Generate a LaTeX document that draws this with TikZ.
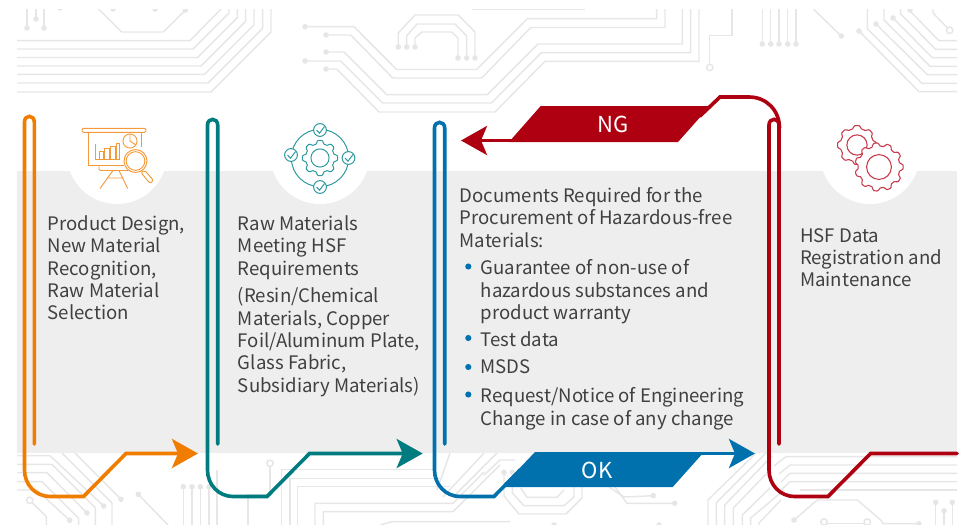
\documentclass[tikz,border=0pt]{standalone}
\usepackage{fontspec}
\setmainfont{Noto Sans CJK SC}
\usetikzlibrary{arrows.meta}
\definecolor{cOrange}{HTML}{F07D00}
\definecolor{cTeal}{HTML}{007C80}
\definecolor{cBlue}{HTML}{0071AD}
\definecolor{cRed}{HTML}{AE0011}
\definecolor{cBand}{HTML}{EEEEEE}
\definecolor{cTrace}{HTML}{E6E6E6}
\definecolor{cText}{HTML}{404040}
\definecolor{cIconO}{HTML}{F49A3A}
\definecolor{cIconT}{HTML}{2E9AA0}
\definecolor{cIconR}{HTML}{C63A4A}
\tikzset{
  trace/.style={draw=cTrace,line width=1.1pt},
  conn/.style={line width=2.7pt,line join=miter,line cap=round},
  tip/.style={-{Stealth[length=19.5pt,width=21.75pt,inset=4.5pt]}},
  body/.style={anchor=north west,inner sep=0pt,align=left,text=cText,font=\fontsize{13.95}{16.8}\selectfont},
  lab/.style={text=white,inner sep=0pt,font=\fontsize{16.5}{18}\selectfont},
  iconO/.style={draw=cIconO,line width=.7pt},
  iconT/.style={draw=cIconT,line width=.75pt},
  iconR/.style={draw=cIconR,line width=.8pt,fill=white},
}
\newcommand{\gearat}[6]{% x,y,R,A,N,style
  \draw[#6] plot[domain=0:360,samples=145,smooth] ({#1+(#3+#4*min(1,max(-1,1.7*cos(#5*\x))))*cos(\x)},{#2+(#3+#4*min(1,max(-1,1.7*cos(#5*\x))))*sin(\x)}) -- cycle;}
\begin{document}
\begin{tikzpicture}[x=0.75pt,y=-0.75pt]
\useasboundingbox (0,0) rectangle (968,525);
% circuit traces
\begin{scope}
\clip (17,9) rectangle (957,525);
% top-left
\draw[trace] (17,40.7) -- (190,40.7) -- (221,9);
\draw[trace] (17,49) -- (193,49) -- (229,13) -- (229,9);
\draw[trace] (17,57.5) -- (197.5,57.5) -- (237.3,17.7) -- (237.3,9);
\draw[trace] (17,66) -- (201,66) -- (245.7,21.3) -- (245.7,9);
\draw[trace] (17,74.3) -- (204.5,74.3) -- (254,24.8) -- (254,9);
\draw[trace] (17,83) -- (208,83) -- (262.7,28.3) -- (262.7,9);
\draw[trace] (17,92) -- (211,92) -- (271,32) -- (271,9);
\draw[trace] (27,9) -- (27,28);
\draw[trace] (36,9) -- (36,19);
\draw[trace] (44,9) -- (44,28);
\draw[trace] (98.7,9) -- (121.7,32) -- (163.3,32) -- (185.5,10);
% top-middle
\draw[trace] (305,26.7) -- (354,26.7) -- (396.7,69.5) -- (476.7,69.5) -- (527.5,18.7) -- (656.7,18.7) -- (656.7,9);
\draw[trace] (326,35) -- (350.7,35) -- (392.7,78) -- (481.7,78) -- (530.7,27.5) -- (665,27.5) -- (665,9);
\draw[trace] (326,52) -- (344,52) -- (386.7,94.7) -- (487.3,94.7) -- (538,44) -- (682.3,44) -- (682.3,9);
\draw[trace] (305,61) -- (340.7,61) -- (382.7,103) -- (491.4,103) -- (541.3,52.7) -- (690.7,52.7) -- (690.7,9);
\draw[trace] (326,69) -- (336.7,69) -- (379,112) -- (495,112) -- (545,61.3) -- (699,61.3) -- (699,9);
\draw[trace] (398.3,47) -- (398.3,33) -- (415,15) -- (458.3,15) -- (475,32) -- (475,58);
\draw[trace] (406.7,47) -- (406.7,36) -- (417,24) -- (455,24) -- (466.7,36) -- (466.7,58);
\draw[trace] (415,47) -- (415,38) -- (421.7,32) -- (451.7,32) -- (458,38) -- (458,58);
\draw[draw=cTrace,line width=.5pt] (472,9.3) -- (585,9.3);
% top-right
\draw[trace] (732,9) -- (732,35.7) -- (709.7,35.7) -- (709.7,64.5);
\foreach \xa in {762.3,770.7,779,787.7,796} \draw[trace] (\xa,9) -- (\xa,44);
\draw[trace] (813.3,9) -- (841.3,36);
\draw[trace] (859,31) -- (919,91.7) -- (957,91.7);
\draw[trace] (867.3,9) -- (867.3,28.6) -- (922,83.3) -- (957,83.3);
\draw[trace] (876,24) -- (927.3,74.7) -- (957,74.7);
\draw[trace] (884,9) -- (884,20) -- (930,66.3) -- (957,66.3);
\draw[trace] (893,18) -- (932.3,57.7) -- (957,57.7);
\draw[trace] (900.7,9) -- (900.7,14) -- (935.7,49.3) -- (957,49.3);
\draw[trace] (910,11) -- (939,40.7) -- (957,40.7);
\draw[trace] (933,9) -- (933,13) -- (947.5,28);
% bottom-left
\draw[trace] (75,453) -- (121,499.3);
\draw[trace] (62,453) -- (112,503) -- (112,525);
\draw[trace] (17,455.7) -- (50,455.7) -- (103.7,506);
\draw[trace] (17,464.3) -- (52,464.3) -- (95.3,507.7) -- (95.3,525);
\draw[trace] (17,472.7) -- (47,472.7) -- (87,513);
\draw[trace] (17,481.7) -- (42,481.7) -- (78.7,518.3) -- (78.7,525);
\draw[trace] (17,490) -- (37,490) -- (69.7,520.3);
\draw[trace] (32,502.5) -- (46.3,516.7) -- (46.3,525);
\draw[trace] (138.3,494.3) -- (168,525);
\foreach \xa in {183.3,192,200.3,209} \draw[trace] (\xa,486.7) -- (\xa,525);
\draw[trace] (217,470) -- (217,525);
\draw[trace] (270,466.3) -- (270,495) -- (248,495) -- (248,525);
\draw[trace] (281.7,525) -- (281.7,469.3) -- (435,469.3);
\draw[trace] (290,525) -- (290,478.3) -- (440,478.3);
\draw[trace] (297.7,525) -- (297.7,486.7) -- (450,486.7);
\draw[trace] (315,525) -- (315,503.3) -- (453,503.3) -- (484,472);
\draw[trace] (323.3,525) -- (323.3,511.7) -- (453,511.7) -- (500,465);
\draw[trace] (380,525) -- (392,521.7) -- (510,521.7);
\draw[trace] (437,490) -- (450,453);
\draw[trace] (443,497) -- (484,453);
\draw[trace] (453,497) -- (497,453);
% bottom-middle
\draw[trace] (504,472.3) -- (504,496) -- (519,514) -- (566,514) -- (582,498) -- (582,470);
\draw[trace] (512.3,472.3) -- (512.3,493) -- (524,505.7) -- (564,505.7) -- (574,497) -- (574,470);
\draw[trace] (520.7,488) -- (527,497.3) -- (557,497.3) -- (564,490);
\draw[trace] (484,475) -- (500,460) -- (515,460);
\draw[trace] (609,487) -- (624,497) -- (653.3,495.7);
\draw[trace] (615,487) -- (627,503.3) -- (674.7,503.3);
\draw[trace] (554,525) -- (554,524);
% bottom-right
\draw[trace] (708,525) -- (708,500) -- (756,453);
\draw[trace] (716.3,525) -- (716.3,502.7) -- (766,453);
\draw[trace] (724.7,525) -- (724.7,505) -- (772,456);
\draw[trace] (733.3,525) -- (733.3,508) -- (770,470);
\draw[trace] (742.3,525) -- (742.3,515) -- (770,488);
\draw[trace] (750.7,525) -- (750.7,518) -- (784,490);
\draw[trace] (759,525) -- (759,523) -- (781,500);
\draw[trace] (774,466) -- (786,456.7) -- (957,456.7);
\draw[trace] (779,474) -- (790,465) -- (957,465);
\draw[trace] (781,482) -- (790,473.3) -- (957,473.3);
\draw[trace] (781,490) -- (790,481.7) -- (957,481.7);
\draw[trace] (800,490) -- (957,490);
\draw[trace] (794,520) -- (817.3,500) -- (857.3,500) -- (880.7,520) -- (883,523.7) -- (919,523.7);
\draw[trace] (826.5,523.7) -- (865,523.7);
\draw[trace] (935.7,502.3) -- (935.7,525);
\draw[trace] (944,510.7) -- (944,525);
\draw[trace] (952.3,502.3) -- (952.3,525);
% dots
\foreach \p in {(27,28),(36,19),(44,28),(185.5,10),(113,9),(155,9),(60,8),(305,26.7),(326,35),(326,52),(305,61),(326,69),(398.3,47),(406.7,47),(415,47),(458,58),(466.7,58),(475,58),(762.3,44),(770.7,44),(779,44),(787.7,44),(796,44),(841.3,36),(859,31),(876,24),(893,18),(910,10),(121,499.3),(103.7,506),(87,513),(69.7,520.3),(138.3,494.3),(183.3,486.7),(192,486.7),(200.3,486.7),(209,486.7),(504,472.3),(512.3,472.3),(653.3,495.5),(674.7,503.3),(554,525),(659,525),(794,520),(919,523.7),(935.7,502.3),(944,510.7),(952.3,502.3)}
  \fill[cTrace] \p circle (2.1pt);
\foreach \p in {(709.7,67.5),(949.7,30.3),(29.7,500.3),(270,463.3),(824,522),(867.3,522)}
  \draw[draw=cTrace,line width=1.1pt,fill=white] \p circle (2.4pt);
\end{scope}
% band and circles
\fill[cBand] (17,171) rectangle (957,453);
\foreach \xa in {117,320,870} \fill[white] (\xa,154) circle (37.5pt);
% icon 1
\draw[iconO,rounded corners=1pt] (82,128.3) rectangle (146,132.3);
\draw[iconO] (141,132.3) -- (141,147);
\draw[iconO] (88,132.3) -- (88,165) -- (124,165);
\draw[iconO,rounded corners=1pt] (99,165) -- (99,170.5) -- (128,170.5);
\draw[iconO] (95,144) -- (95,159.3) -- (120,159.3);
\foreach \xa/\xb/\ya in {99/103/151,104.5/109/148,110/115/146,116/119.5/143}
  \draw[iconO] (\xa,159.3) -- (\xa,\ya) -- (\xb,\ya) -- (\xb,159.3);
\draw[iconO] (130,141) circle (5.3pt);
\draw[iconO] (130,141) -- (130,134) (130,141) -- (136,145);
\draw[iconO] (113,170.5) -- (100,188.5) (119,170.5) -- (127.7,188.5) (107,178) -- (122,178);
\draw[iconO,fill=white] (135.5,161) circle (8.6pt);
\draw[iconO] (135.5,161) circle (7pt);
\draw[iconO,rounded corners=1.5pt] (141,172.5) -- (144.5,170) -- (153.5,180.5) -- (150,183.5) -- cycle;
% icon 2
\draw[iconT] (320,158) circle (21.5pt);
\foreach \cx/\cy in {320/130,348.5/158,320/187,291/155}{
  \draw[iconT,fill=white] (\cx,\cy) circle (4.8pt);
  \draw[iconT] (\cx-3.5,\cy) -- (\cx-0.5,\cy+3.2) -- (\cx+4.5,\cy-3.5);
}
\gearat{320}{158}{16}{1.6}{8}{iconT}
\draw[iconT] (320,158) circle (6.8pt);
% icon 3
\gearat{857}{145}{18}{1.4}{8}{iconR}
\draw[iconR] (857,145) circle (7.6pt);
\gearat{879}{167}{22.5}{1.6}{11}{iconR}
\draw[iconR] (879,167) circle (9.3pt);
% texts
\node[body] (t1) at (47.5,215.3) {Product Design,\\New Material\\Recognition,\\Raw Material\\Selection};
\node[body] (t2) at (237.7,215.3) {Raw Materials\\Meeting HSF\\Requirements};
\node[body] (t2b) at (237.7,287.3) {(Resin/Chemical\\Materials, Copper\\Foil/Aluminum Plate,\\Glass Fabric,\\Subsidiary Materials)};
\node[body] (t3) at (459.5,187) {Documents Required for the\\Procurement of Hazardous-free\\Materials:};
\node[body] (b1) at (480.5,259.3) {Guarantee of non-use of\\hazardous substances and\\product warranty};
\node[body] (b2) at (480.5,331.3) {Test data};
\node[body] (b3) at (480.5,359.5) {MSDS};
\node[body] (b4) at (480.5,387.3) {Request/Notice of Engineering\\Change in case of any change};
\node[body] (t4) at (800,228) {HSF Data\\Registration and\\Maintenance};
\foreach \ya in {266.5,338,367,394.5} \fill[cBlue] (468.3,\ya) circle (2.3pt);
% connector ends
\coordinate (oS) at (34.3,444);
\coordinate (oE) at (198,453.5);
\coordinate (tS) at (217.7,444);
\coordinate (tE) at (422.7,453.5);
\coordinate (bS) at (444.7,444);
\coordinate (bE) at (755,453.5);
\coordinate (rS) at (779,444);
\coordinate (rE) at (957,453.5);
\coordinate (ngS) at (779.5,128);
\coordinate (ngE) at (461,140.5);
% orange
\draw[conn,cOrange,tip] (oS) -- (34.3,122) .. controls (34.3,114.5) and (24.5,114.5) .. (24.5,122) -- (24.5,470) .. controls (24.5,485) and (36,496.5) .. (50,496.5) -- (83.5,496.5) -- (126,453.5) -- (oE);
% teal
\draw[conn,cTeal,tip] (tS) -- (217.7,125) .. controls (217.7,117.5) and (207.5,117.5) .. (207.5,125) -- (207.5,470) .. controls (207.5,485) and (219,496.5) .. (233,496.5) -- (267,496.5) -- (309.5,453.5) -- (tE);
% blue
\fill[cBlue] (535,452) -- (704,452) -- (672.7,487) -- (501.7,487) -- cycle;
\draw[conn,cBlue] (bS) -- (444.7,128) .. controls (444.7,120.5) and (434.5,120.5) .. (434.5,128) -- (434.5,470) .. controls (434.5,485) and (446,496.5) .. (460,496.5) -- (494,496.5) -- (520,470);
\draw[conn,cBlue,tip] (690,453.5) -- (bE);
\node[lab] (ok) at (597,470) {OK};
% red
\draw[conn,cRed] (rS) -- (779,125) .. controls (779,117.5) and (769,117.5) .. (769,125) -- (769,470) .. controls (769,485) and (780.5,496.5) .. (794.5,496.5) -- (828,496.5) -- (870.6,453.5) -- (rE);
\fill[cRed] (540.7,106) -- (710,106) -- (678,142) -- (509,142) -- cycle;
\draw[conn,cRed] (ngS) .. controls (779.5,110) and (766,97) .. (749,97) -- (720,97) -- (700,116);
\draw[conn,cRed,tip] (530,140.5) -- (ngE);
\node[lab] (ng) at (613,124.5) {NG};
\end{tikzpicture}
\end{document}
